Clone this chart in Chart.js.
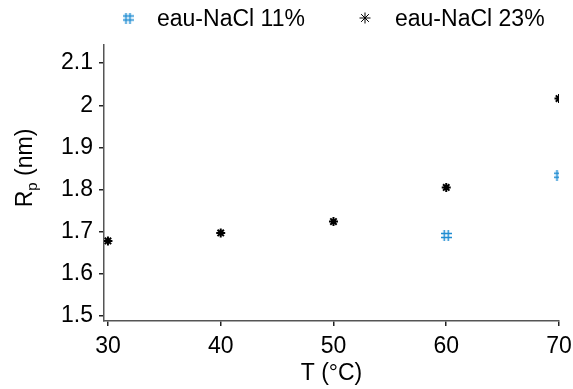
<!DOCTYPE html>
<html>
<head>
<meta charset="utf-8">
<script src="https://cdn.jsdelivr.net/npm/chart.js@4/dist/chart.umd.min.js"></script>
<style>
  html, body { margin: 0; padding: 0; background: #fff; }
  #wrap { width: 573px; height: 389px; }
</style>
</head>
<body>
<div id="wrap"><canvas id="c"></canvas></div>
<script>
// temperatures (°C) and particle radius Rp (nm)
var temps11 = [60, 70];
var rp11 = [1.691, 1.834];
var temps23 = [30, 40, 50, 60, 70];
var rp23 = [1.678, 1.697, 1.724, 1.805, 2.016];
var yTicks = [1.5, 1.6, 1.7, 1.8, 1.9, 2.0, 2.1];
var xTicks = [30, 40, 50, 60, 70];

var BLUE = 'rgb(30,140,210)';
var FONT = "'Liberation Sans', Arial, sans-serif";
var FS = 23;

// '#' shaped marker
function hashMarker(colour, size, lw){
  var cv = document.createElement('canvas');
  cv.width = size; cv.height = size;
  var ctx = cv.getContext('2d');
  ctx.strokeStyle = colour;
  ctx.lineWidth = lw;
  var a = 3.5, b = size - 3.5;
  ctx.beginPath();
  ctx.moveTo(a, 0); ctx.lineTo(a, size);
  ctx.moveTo(b, 0); ctx.lineTo(b, size);
  ctx.moveTo(0, a); ctx.lineTo(size, a);
  ctx.moveTo(0, b); ctx.lineTo(size, b);
  ctx.stroke();
  return cv;
}
var hash = hashMarker(BLUE, 11, 1.5);

function toXY(xs, ys){
  var out = [];
  for (let i = 0; i < xs.length; i++){ out.push({x: xs[i], y: ys[i]}); }
  return out;
}

// legend on top, laid out like the original
var topLegend = {
  id: 'topLegend',
  afterDraw: function(chart){
    var ctx = chart.ctx;
    var items = [
      {text: chart.data.datasets[0].label, mx: 128, tx: 157, style: hash, lw: 1},
      {text: chart.data.datasets[1].label, mx: 365, tx: 395, style: 'star', lw: 1.2}
    ];
    ctx.save();
    items.forEach(function(it){
      ctx.strokeStyle = it.style === 'star' ? '#000' : BLUE;
      ctx.fillStyle = ctx.strokeStyle;
      Chart.helpers.drawPoint(ctx, {pointStyle: it.style, radius: 5.5, rotation: 0, borderWidth: it.lw}, it.mx, 18);
      ctx.fillStyle = '#000';
      ctx.font = FS + 'px ' + FONT;
      ctx.textBaseline = 'alphabetic';
      ctx.fillText(it.text, it.tx, 26);
    });
    ctx.restore();
  }
};

// y title with subscript p
var yTitle = {
  id: 'yTitle',
  afterDraw: function(chart){
    var ctx = chart.ctx;
    ctx.save();
    ctx.translate(24, 168);
    ctx.rotate(-Math.PI / 2);
    ctx.fillStyle = '#000';
    ctx.textBaseline = 'alphabetic';
    ctx.font = FS + 'px ' + FONT;
    var w1 = ctx.measureText('R').width;
    ctx.font = '15px ' + FONT;
    var w2 = ctx.measureText('p').width;
    ctx.font = FS + 'px ' + FONT;
    var w3 = ctx.measureText(' (nm)').width;
    var x = -(w1 + w2 + w3) / 2;
    ctx.fillText('R', x, 8);
    ctx.font = '15px ' + FONT;
    ctx.fillText('p', x + w1, 13);
    ctx.font = FS + 'px ' + FONT;
    ctx.fillText(' (nm)', x + w1 + w2, 8);
    ctx.restore();
  }
};

new Chart(document.getElementById('c'), {
  type: 'scatter',
  data: {
    datasets: [{
      label: 'eau-NaCl 11%',
      data: toXY(temps11, rp11),
      pointStyle: hash,
      borderColor: BLUE,
      backgroundColor: BLUE
    }, {
      label: 'eau-NaCl 23%',
      data: toXY(temps23, rp23),
      pointStyle: 'star',
      radius: 4.5,
      borderWidth: 2,
      borderColor: '#000',
      backgroundColor: '#000'
    }]
  },
  plugins: [yTitle, topLegend],
  options: {
    responsive: true,
    maintainAspectRatio: false,
    animation: false,
    layout: { padding: { top: 45, right: 0, left: 0, bottom: 0 } },
    plugins: {
      tooltip: { enabled: false },
      legend: { display: false }
    },
    scales: {
      x: {
        type: 'linear',
        min: 29.65,
        max: 70,
        afterBuildTicks: function(s){ s.ticks = xTicks.map(v => ({value: v})); },
        afterFit: function(s){ s.height = 68; s.paddingRight = 14; s.paddingLeft = 0; },
        grid: { display: true, drawOnChartArea: false, drawTicks: true, tickLength: 5, color: '#222', lineWidth: 1.5 },
        border: { display: true, color: '#555', width: 1.5 },
        ticks: { color: '#000', padding: 7, maxRotation: 0, font: { family: FONT, size: FS } },
        title: { display: true, text: 'T (°C)', color: '#000', padding: { top: 0, bottom: 2 }, font: { family: FONT, size: FS } }
      },
      y: {
        type: 'linear',
        min: 1.488,
        max: 2.143,
        afterBuildTicks: function(s){ s.ticks = yTicks.map(v => ({value: v})); },
        afterFit: function(s){ s.width = 104; },
        grid: { display: true, drawOnChartArea: false, drawTicks: true, tickLength: 5, color: '#222', lineWidth: 1.5 },
        border: { display: true, color: '#555', width: 1.5 },
        ticks: {
          color: '#000', padding: 6,
          font: { family: FONT, size: FS },
          callback: function(v){ return v === 2 ? '2' : v.toFixed(1); }
        }
      }
    }
  }
});
</script>
</body>
</html>
